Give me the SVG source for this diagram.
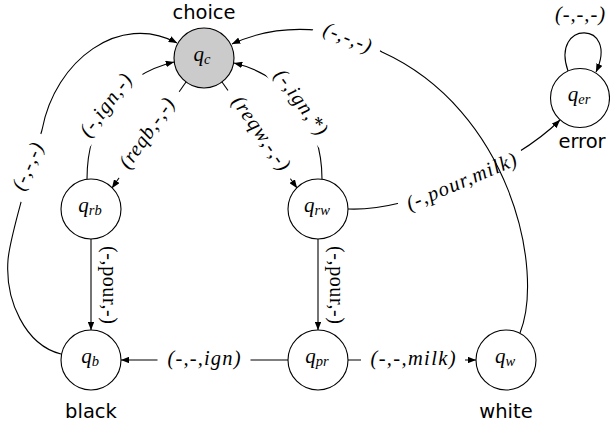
<svg xmlns="http://www.w3.org/2000/svg" width="610" height="428" viewBox="0 0 610 428">
<style>
.edge{fill:none;stroke:#000;stroke-width:1.1}
.nd{fill:#fff;stroke:#000;stroke-width:1.1}
.gray{fill:#cbcbcb}
.bg{fill:#fff}
.lbl{font-family:"Liberation Serif",serif;font-style:italic;font-size:20.5px;fill:#000}
.rom{font-family:"Liberation Serif",serif;font-size:20px;fill:#000}
.q{font-family:"Liberation Serif",serif;font-style:italic;font-size:21px;fill:#000}
.sub{font-size:14.5px}
.side{font-family:"DejaVu Sans",sans-serif;font-size:19.5px;fill:#000;text-anchor:middle}
</style>
<defs>
<marker id="ah" markerWidth="8.5" markerHeight="6.6" refX="8.3" refY="3.3" orient="auto" markerUnits="userSpaceOnUse" viewBox="0 0 8.5 6.6">
<path d="M0,0 L8.5,3.3 L0,6.6 z" fill="#000"/>
</marker>
</defs>
<g id="connectors">
<g id="e-b-c">
<path class="edge" marker-end="url(#ah)" d="M61,354 C25,345 5,300 8,260 C10,235 30,170 42,130 C55,60 120,12 177,43"/>
<g transform="translate(29,167) rotate(-66)"><rect class="bg" x="-35" y="-11" width="70" height="22"/><text class="lbl" x="0" y="5" text-anchor="middle" textLength="50" lengthAdjust="spacing">(-,-,-)</text></g>
</g>
<g id="e-rb-c">
<path class="edge" marker-end="url(#ah)" d="M87,179 C87,120 120,75 174,62"/>
<g transform="translate(107,106) rotate(-53)"><rect class="bg" x="-46.5" y="-11" width="93" height="22"/><text class="lbl" x="0" y="5" text-anchor="middle" textLength="73" lengthAdjust="spacing">(-,ign,-)</text></g>
</g>
<g id="e-c-rb">
<path class="edge" marker-end="url(#ah)" d="M186,82 L112,188"/>
<g transform="translate(148,134) rotate(-55)"><rect class="bg" x="-52.5" y="-11" width="105" height="22"/><text class="lbl" x="0" y="5" text-anchor="middle" textLength="81" lengthAdjust="spacing">(reqb,-,-)</text></g>
</g>
<g id="e-c-rw">
<path class="edge" marker-end="url(#ah)" d="M222,82 L297,188"/>
<g transform="translate(260,134) rotate(55)"><rect class="bg" x="-54" y="-11" width="108" height="22"/><text class="lbl" x="0" y="5" text-anchor="middle" textLength="86" lengthAdjust="spacing">(reqw,-,-)</text></g>
</g>
<g id="e-rw-c">
<path class="edge" marker-end="url(#ah)" d="M322,179 C322,120 285,75 234,63"/>
<g transform="translate(300,103) rotate(54)"><rect class="bg" x="-48" y="-11" width="96" height="22"/><text class="lbl" x="0" y="5" text-anchor="middle" textLength="76" lengthAdjust="spacing">(-,ign,*)</text></g>
</g>
<g id="e-rw-er">
<path class="edge" marker-end="url(#ah)" d="M348,209 C410,212 515,165 560,120"/>
<g transform="translate(462,183) rotate(-23)"><rect class="bg" x="-67" y="-11" width="134" height="22"/><text class="lbl" x="0" y="5" text-anchor="middle" textLength="118" lengthAdjust="spacing">(-,pour,milk)</text></g>
</g>
<g id="e-w-c">
<path class="edge" marker-end="url(#ah)" d="M520,333 C545,270 510,110 382,52 C340,25 280,22 232,44"/>
<g transform="translate(347,39) rotate(22)"><rect class="bg" x="-35" y="-11" width="70" height="22"/><text class="lbl" x="0" y="5" text-anchor="middle" textLength="50" lengthAdjust="spacing">(-,-,-)</text></g>
</g>
<g id="e-rb-b">
<path class="edge" marker-end="url(#ah)" d="M91,239 L91,330"/>
<g transform="translate(108,285) rotate(90)"><text class="rom" x="0" y="5" text-anchor="middle" textLength="78" lengthAdjust="spacing">(-,pour,-)</text></g>
</g>
<g id="e-rw-pr">
<path class="edge" marker-end="url(#ah)" d="M318,239 L318,330"/>
<g transform="translate(335,285) rotate(90)"><text class="rom" x="0" y="5" text-anchor="middle" textLength="78" lengthAdjust="spacing">(-,pour,-)</text></g>
</g>
<g id="e-pr-b">
<path class="edge" marker-end="url(#ah)" d="M288,360 L121,360"/>
<g transform="translate(204,360)"><rect class="bg" x="-46.5" y="-11" width="93" height="22"/><text class="lbl" x="0" y="5" text-anchor="middle" textLength="73" lengthAdjust="spacing">(-,-,ign)</text></g>
</g>
<g id="e-pr-w">
<path class="edge" marker-end="url(#ah)" d="M348,360 L476,360"/>
<g transform="translate(413,360)"><rect class="bg" x="-52" y="-11" width="104" height="22"/><text class="lbl" x="0" y="5" text-anchor="middle" textLength="85" lengthAdjust="spacing">(-,-,milk)</text></g>
</g>
<g id="e-er-er">
<path class="edge" marker-end="url(#ah)" d="M568,71 C550,20 620,20 596,72"/>
<text class="lbl" x="580" y="20.5" text-anchor="middle" textLength="50" lengthAdjust="spacing">(-,-,-)</text>
</g>
</g>
<g id="qc">
<circle class="nd gray" cx="204" cy="58" r="30"/>
<text class="q" x="202" y="60.5" text-anchor="middle">q<tspan class="sub" dy="3">c</tspan></text>
<text class="side" x="204" y="18.5">choice</text>
</g>
<g id="qrb">
<circle class="nd" cx="91" cy="209" r="30"/>
<text class="q" x="90" y="211.5" text-anchor="middle">q<tspan class="sub" dy="3">rb</tspan></text>
</g>
<g id="qrw">
<circle class="nd" cx="318" cy="209" r="30"/>
<text class="q" x="317" y="211.5" text-anchor="middle">q<tspan class="sub" dy="3">rw</tspan></text>
</g>
<g id="qb">
<circle class="nd" cx="91" cy="360" r="30"/>
<text class="q" x="90" y="362.5" text-anchor="middle">q<tspan class="sub" dy="3">b</tspan></text>
<text class="side" x="91" y="418">black</text>
</g>
<g id="qpr">
<circle class="nd" cx="318" cy="360" r="30"/>
<text class="q" x="317" y="362.5" text-anchor="middle">q<tspan class="sub" dy="3">pr</tspan></text>
</g>
<g id="qw">
<circle class="nd" cx="506" cy="360" r="30"/>
<text class="q" x="505" y="362.5" text-anchor="middle">q<tspan class="sub" dy="3">w</tspan></text>
<text class="side" x="506" y="418">white</text>
</g>
<g id="qer">
<circle class="nd" cx="580" cy="98" r="29.5"/>
<text class="q" x="579" y="100.5" text-anchor="middle">q<tspan class="sub" dy="3">er</tspan></text>
<text class="side" x="582" y="148">error</text>
</g>
</svg>
